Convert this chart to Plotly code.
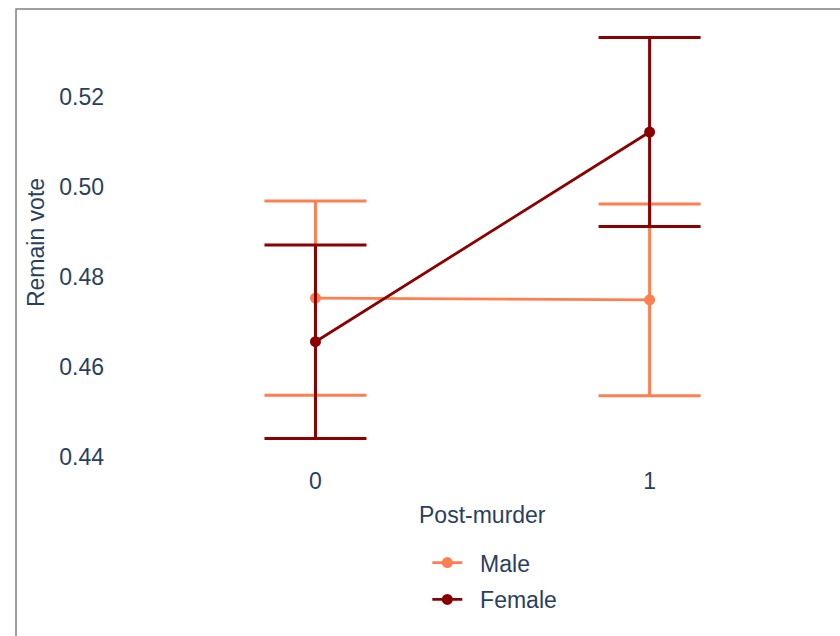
import plotly.graph_objects as go

# Remain vote share by gender, before (0) and after (1) the murder
post_murder = [0, 1]
male_mean = [0.4753, 0.4749]
male_err = [0.0216, 0.0213]
female_mean = [0.4656, 0.5122]
female_err = [0.0215, 0.0210]

series = [
    ("Male", male_mean, male_err, "#ff7f50"),
    ("Female", female_mean, female_err, "#8b0000"),
]

fig = go.Figure()
for name, mean, err, color in series:
    fig.add_trace(go.Scatter(
        x=post_murder, y=mean, name="\u00a0\u00a0" + name,
        legendgroup=name,
        mode="lines+markers",
        line=dict(color=color, width=2.8),
        marker=dict(color=color, size=11),
        error_y=dict(type="data", array=err, visible=True,
                     color=color, thickness=3, width=51),
    ))

font = "Liberation Sans, Arial, sans-serif"
fig.update_layout(
    width=840, height=636,
    margin=dict(l=115, r=20, t=20, b=171),
    paper_bgcolor="white", plot_bgcolor="white",
    font=dict(family=font, size=23, color="#2a3f5f"),
    xaxis=dict(range=[-0.6, 1.51], tickvals=[0, 1], ticktext=["0", "1"],
               showgrid=False, zeroline=False, showline=False,
               ticklabelstandoff=0),
    yaxis=dict(range=[0.4382, 0.5371], tickvals=[0.44, 0.46, 0.48, 0.50, 0.52],
               tickformat=".2f", showgrid=False, zeroline=False, showline=False,
               ticklabelstandoff=10,
               title=dict(text="Remain vote", font=dict(size=23), standoff=8)),
    legend=dict(orientation="v", x=0.443, xanchor="left", y=-0.171, yanchor="top",
                font=dict(size=23), bgcolor="rgba(0,0,0,0)", tracegroupgap=4),
    # x-axis title centred between the two groups
    annotations=[dict(text="Post-murder", xref="x", yref="paper",
                      x=0.5, y=0, yshift=-50, xanchor="center", yanchor="middle",
                      showarrow=False, font=dict(size=23))],
    shapes=[dict(type="rect", xref="paper", yref="paper",
                 x0=-0.1404, x1=1.04, y0=-0.40, y1=1.0247,
                 line=dict(color="#808080", width=1.5), layer="above")],
    showlegend=True,
)

fig.write_html("out.html", config={"displayModeBar": False})
